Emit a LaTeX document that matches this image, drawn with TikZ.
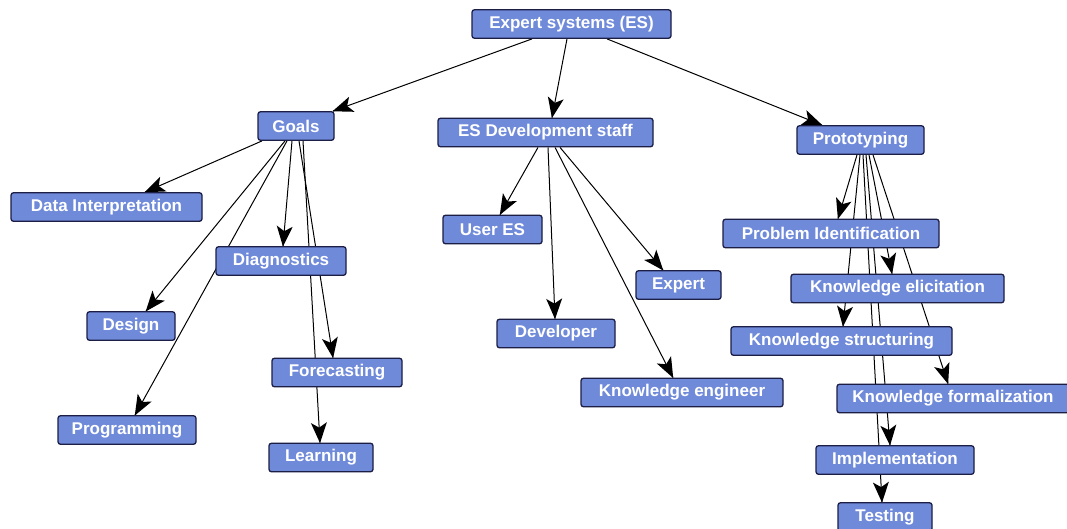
\documentclass[tikz,border=0pt]{standalone}
\usepackage{fontspec}
\setmainfont{Liberation Sans}
\usetikzlibrary{backgrounds,decorations.markings}
\definecolor{boxfill}{RGB}{112,138,218}
\definecolor{boxline}{RGB}{28,30,70}
\tikzset{
  box/.style={draw=boxline, line width=1.3pt, fill=boxfill, rounded corners=2.5pt,
    minimum height=28.5pt, inner sep=0pt, text=white,
    font=\fontsize{17}{20}\selectfont\bfseries},
  conn/.style={draw=black, line width=1pt,
    decoration={markings, mark=at position 1 with {\fill[black] (0.5pt,0pt) -- (-20pt,8pt) -- (-15pt,0pt) -- (-20pt,-8pt) -- cycle;}},
    postaction={decorate}},
}
\begin{document}
\begin{tikzpicture}[x=1pt,y=-1pt]
\useasboundingbox (0,0) rectangle (1067,528);
% nodes
\node[box, minimum width=199pt] (es) at (571.5,24) {Expert systems (ES)};
\node[box, minimum width=76pt] (goals) at (296,126) {Goals};
\node[box, minimum width=215pt] (dev) at (545.5,132.5) {ES Development staff};
\node[box, minimum width=127pt] (proto) at (860.5,140) {Prototyping};
\node[box, minimum width=191pt] (dataint) at (106.5,207) {Data Interpretation};
\node[box, minimum width=88pt] (design) at (131,326) {Design};
\node[box, minimum width=138pt] (prog) at (127,430) {Programming};
\node[box, minimum width=130pt] (diag) at (281,261) {Diagnostics};
\node[box, minimum width=130pt] (fore) at (337,372.5) {Forecasting};
\node[box, minimum width=104pt] (learn) at (321,457.5) {Learning};
\node[box, minimum width=99pt] (user) at (492.5,229.5) {User ES};
\node[box, minimum width=118pt] (developer) at (556,333.5) {Developer};
\node[box, minimum width=85pt] (expert) at (678.5,285) {Expert};
\node[box, minimum width=202pt] (keng) at (682,392.5) {Knowledge engineer};
\node[box, minimum width=216pt] (pi) at (831,233.5) {Problem Identification};
\node[box, minimum width=213pt] (kel) at (897.5,288.5) {Knowledge elicitation};
\node[box, minimum width=221pt] (kst) at (841.5,341) {Knowledge structuring};
\node[box, minimum width=232pt] (kf) at (953,398.5) {Knowledge formalization};
\node[box, minimum width=158pt] (impl) at (895,460) {Implementation};
\node[box, minimum width=94pt] (test) at (885,517) {Testing};
% connectors behind the boxes
\begin{pgfonlayer}{background}
\fill[white] (0,0) rectangle (1067,528);
\draw[conn] ([xshift=-39.5pt]es.south) -- ([xshift=37pt]goals.north);
\draw[conn] ([xshift=-4.5pt]es.south) -- ([xshift=6.5pt]dev.north);
\draw[conn] ([xshift=35.5pt]es.south) -- ([xshift=-38.5pt]proto.north);
% Goals
\draw[conn] ([xshift=-34pt]goals.south) -- ([xshift=38.5pt]dataint.north);
\draw[conn] ([xshift=-11pt]goals.south) -- ([xshift=15pt]design.north);
\draw[conn] ([xshift=-9pt]goals.south) -- ([xshift=8pt]prog.north);
\draw[conn] ([xshift=-4pt]goals.south) -- ([xshift=2pt]diag.north);
\draw[conn] ([xshift=3pt]goals.south) -- ([xshift=-4pt]fore.north);
\draw[conn] ([xshift=7pt]goals.south) -- ([xshift=-1pt]learn.north);
% ES Development staff
\draw[conn] ([xshift=-7.5pt]dev.south) -- ([xshift=7.5pt]user.north);
\draw[conn] ([xshift=2.5pt]dev.south) -- ([xshift=-1pt]developer.north);
\draw[conn] ([xshift=9.5pt]dev.south) -- ([xshift=-9pt]keng.north);
\draw[conn] ([xshift=14.5pt]dev.south) -- ([xshift=-15.5pt]expert.north);
% Prototyping
\draw[conn] ([xshift=-3.5pt]proto.south) -- ([xshift=7pt]pi.north);
\draw[conn] ([xshift=-0.5pt]proto.south) -- ([xshift=1.5pt]kst.north);
\draw[conn] ([xshift=2.5pt]proto.south) -- ([xshift=-3pt]test.north);
\draw[conn] ([xshift=5.5pt]proto.south) -- ([xshift=-5pt]impl.north);
\draw[conn] ([xshift=8.5pt]proto.south) -- ([xshift=-5.5pt]kel.north);
\draw[conn] ([xshift=12.5pt]proto.south) -- ([xshift=-5pt]kf.north);
\end{pgfonlayer}
\end{tikzpicture}
\end{document}
